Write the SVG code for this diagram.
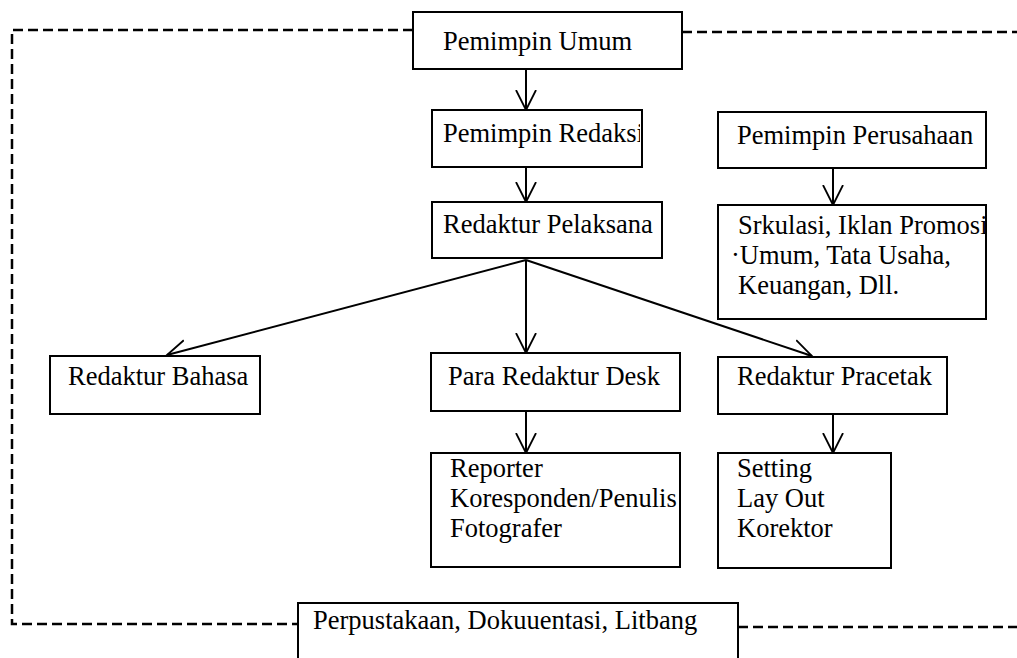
<svg xmlns="http://www.w3.org/2000/svg" width="1017" height="658" viewBox="0 0 1017 658">
<style>
.box{fill:#fff;stroke:#000;stroke-width:2}
.t{font-family:"Liberation Serif","Times New Roman",serif;font-size:26.5px;fill:#000}
.dash{fill:none;stroke:#000;stroke-width:2.5;stroke-dasharray:10 5}
.con{fill:none;stroke:#000;stroke-width:2}
</style>
<defs>
<marker id="arr" markerUnits="userSpaceOnUse" viewBox="0 -12 22 24" refX="20" refY="0" markerWidth="22" markerHeight="24" orient="auto">
<path d="M0,-10 L20,0 L0,10" fill="none" stroke="#000" stroke-width="1.8"/>
</marker>
<clipPath id="cRed"><rect x="432" y="110" width="208" height="57"/></clipPath>
<clipPath id="cSrk"><rect x="718" y="205" width="267" height="114"/></clipPath>
</defs>
<rect width="1017" height="658" fill="#fff"/>

<g id="border">
<path class="dash" d="M413,30 L12,30 L12,624 L298,624"/>
<path class="dash" d="M682,32 L1017,32"/>
<path class="dash" d="M738,627 L1017,627"/>
</g>

<g id="connectors">
<line class="con" x1="526" y1="69" x2="526" y2="110" marker-end="url(#arr)"/>
<line class="con" x1="526" y1="167" x2="526" y2="202" marker-end="url(#arr)"/>
<line class="con" x1="833" y1="168" x2="833" y2="205" marker-end="url(#arr)"/>
<line class="con" x1="526" y1="260" x2="167" y2="355" marker-end="url(#arr)"/>
<line class="con" x1="526" y1="260" x2="526" y2="353" marker-end="url(#arr)"/>
<line class="con" x1="526" y1="260" x2="812" y2="356" marker-end="url(#arr)"/>
<line class="con" x1="526" y1="411" x2="526" y2="453" marker-end="url(#arr)"/>
<line class="con" x1="833" y1="414" x2="833" y2="453" marker-end="url(#arr)"/>
</g>

<g id="pemimpin-umum">
<rect class="box" x="413" y="12" width="269" height="57"/>
<text class="t" x="443" y="50">Pemimpin Umum</text>
</g>

<g id="pemimpin-redaksi">
<rect class="box" x="432" y="110" width="210" height="57"/>
<text class="t" x="443" y="142" clip-path="url(#cRed)">Pemimpin Redaksi</text>
</g>

<g id="pemimpin-perusahaan">
<rect class="box" x="718" y="112" width="268" height="56"/>
<text class="t" x="737" y="144">Pemimpin Perusahaan</text>
</g>

<g id="srkulasi">
<rect class="box" x="718" y="205" width="268" height="114"/>
<g clip-path="url(#cSrk)">
<text class="t" x="738" y="234">Srkulasi, Iklan Promosi</text>
</g>
<text class="t" x="731" y="264">·Umum, Tata Usaha,</text>
<text class="t" x="738" y="294">Keuangan, Dll.</text>
</g>

<g id="redaktur-pelaksana">
<rect class="box" x="432" y="202" width="230" height="56"/>
<text class="t" x="443" y="233">Redaktur Pelaksana</text>
</g>

<g id="redaktur-bahasa">
<rect class="box" x="50" y="356" width="210" height="58"/>
<text class="t" x="68" y="385">Redaktur Bahasa</text>
</g>

<g id="para-redaktur-desk">
<rect class="box" x="431" y="353" width="249" height="58"/>
<text class="t" x="448" y="385">Para Redaktur Desk</text>
</g>

<g id="redaktur-pracetak">
<rect class="box" x="718" y="357" width="229" height="57"/>
<text class="t" x="737" y="385">Redaktur Pracetak</text>
</g>

<g id="reporter">
<rect class="box" x="431" y="453" width="249" height="114"/>
<text class="t" x="450" y="477">Reporter</text>
<text class="t" x="450" y="507">Koresponden/Penulis</text>
<text class="t" x="450" y="537">Fotografer</text>
</g>

<g id="setting">
<rect class="box" x="718" y="453" width="173" height="115"/>
<text class="t" x="737" y="477">Setting</text>
<text class="t" x="737" y="507">Lay Out</text>
<text class="t" x="737" y="537">Korektor</text>
</g>

<g id="perpustakaan">
<rect class="box" x="298" y="603" width="440" height="80"/>
<text class="t" x="313" y="629">Perpustakaan, Dokuuentasi, Litbang</text>
</g>
</svg>
